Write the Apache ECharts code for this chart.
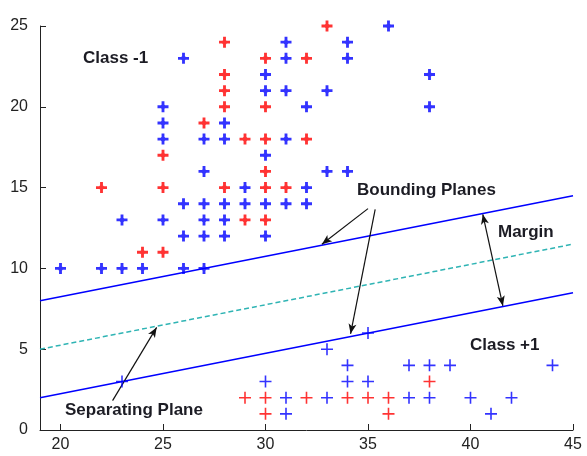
<!DOCTYPE html>
<html>
<head>
<meta charset="utf-8">
<script src="https://cdn.jsdelivr.net/npm/echarts@6/dist/echarts.min.js"></script>
<style>
  html, body { margin: 0; padding: 0; background: #fff; }
  #chart { width: 587px; height: 456px; }
</style>
</head>
<body>
<div id="chart"></div>
<script>
// Training points, Class -1 (upper cluster)
const classNegBlue = [
  [20,10],[22,10],[23,10],[24,10],[26,10],[27,10],
  [23,13],
  [25,20],[25,19],[25,18],[25,13],
  [26,23],[26,14],[26,12],
  [27,18],[27,16],[27,14],[27,13],[27,12],
  [28,19],[28,18],[28,14],[28,13],[28,12],
  [29,15],[29,14],
  [30,22],[30,21],[30,17],[30,14],[30,12],
  [31,24],[31,23],[31,21],[31,18],[31,14],
  [32,20],[32,15],[32,14],
  [33,21],[33,16],
  [34,24],[34,23],[34,16],
  [36,25],
  [38,22],[38,20]
];
const classNegRed = [
  [22,15],[24,11],[25,17],[25,15],[25,11],
  [27,19],
  [28,24],[28,22],[28,21],[28,20],[28,15],
  [29,18],[29,13],
  [30,23],[30,20],[30,18],[30,16],[30,15],[30,13],
  [31,15],
  [32,23],[32,18],
  [33,25]
];
// Training points, Class +1 (lower cluster)
const classPosBlue = [
  [23,3],[30,3],[31,2],[31,1],[33,5],[35,6],
  [34,4],[37,4],[38,4],[39,4],[44,4],
  [34,3],[35,3],
  [33,2],[37,2],[38,2],[40,2],[42,2],
  [41,1]
];
const classPosRed = [
  [29,2],[30,2],[30,1],[32,2],[34,2],[35,2],[36,2],[36,1],[38,3]
];

// Planes (end points across the x range)
const upperPlane = [[19, 8], [45, 14.5]];
const separatingPlane = [[19, 5], [45, 11.5]];
const lowerPlane = [[19, 2], [45, 8.5]];

// Annotation arrows: [tail, head]
const arrowUpper = [[35.0, 13.7], [32.75, 11.5]];
const arrowLower = [[35.35, 13.65], [34.15, 5.95]];
const arrowMargin = [[40.6, 13.35], [41.58, 7.68]];
const arrowSeparating = [[22.54, 1.82], [24.69, 6.35]];

const xTicks = [20, 25, 30, 35, 40, 45];
const yTicks = [0, 5, 10, 15, 20, 25];

const BLUE = '#0000ff';
const RED = '#ff0000';
const TEAL = '#2fb4b4';
const INK = '#1c1c24';

// bold plus with a swollen centre
const boldPlus = 'path://M-1.3,-5 L1.3,-5 L1.3,-1.3 L5,-1.3 L5,1.3 L1.3,1.3 L1.3,5 L-1.3,5 L-1.3,1.3 L-5,1.3 L-5,-1.3 L-1.3,-1.3 Z M0,-3.2 L3.2,0 L0,3.2 L-3.2,0 Z';
// thin plus
const thinPlus = 'path://M-0.8,-6 L0.8,-6 L0.8,-0.8 L6,-0.8 L6,0.8 L0.8,0.8 L0.8,6 L-0.8,6 L-0.8,0.8 L-6,0.8 L-6,-0.8 L-0.8,-0.8 Z';

function scatter(data, symbol, size, color) {
  return {
    type: 'scatter', data: data, symbol: symbol, symbolSize: size,
    itemStyle: { color: color }, clip: false, z: 5, silent: true
  };
}

function plane(pts, color, type, width) {
  return {
    type: 'line', data: pts, showSymbol: false, symbol: 'none',
    lineStyle: { color: color, type: type, width: width },
    clip: false, z: 3, silent: true
  };
}

function arrow(pair, both) {
  return [
    { coord: pair[0], symbol: both ? 'arrow' : 'none' },
    { coord: pair[1], symbol: 'arrow' }
  ];
}

const chart = echarts.init(document.getElementById('chart'), null, { renderer: 'canvas' });

const labelFont = { fontFamily: 'Liberation Sans, Arial, sans-serif', fontSize: 16, color: '#222' };
const noteFont = { fontFamily: 'Liberation Sans, Arial, sans-serif', fontSize: 17, fontWeight: 'bold', fill: INK, verticalAlign: 'middle' };

function note(text, x, y) {
  return { type: 'text', x: x, y: y, silent: true, style: Object.assign({ text: text }, noteFont) };
}

chart.setOption({
  animation: false,
  backgroundColor: '#fff',
  grid: { left: 40, right: 14, top: 26, bottom: 26 },
  xAxis: {
    type: 'value', min: 19, max: 45,
    axisLine: { show: true, lineStyle: { color: '#222', width: 1 } },
    axisTick: { show: true, inside: true, length: 6, customValues: xTicks, lineStyle: { color: '#222' } },
    axisLabel: Object.assign({ customValues: xTicks, margin: 7 }, labelFont),
    splitLine: { show: false }
  },
  yAxis: {
    type: 'value', min: 0, max: 25, interval: 5,
    axisLine: { show: true, lineStyle: { color: '#222', width: 1 } },
    axisTick: { show: true, inside: true, length: 6, lineStyle: { color: '#222' } },
    axisLabel: Object.assign({ margin: 12 }, labelFont),
    splitLine: { show: false }
  },
  series: [
    plane(upperPlane, BLUE, 'solid', 1.5),
    plane(separatingPlane, TEAL, [5, 3], 1.5),
    Object.assign(plane(lowerPlane, BLUE, 'solid', 1.5), {
      markLine: {
        silent: true,
        symbolSize: [6, 10],
        label: { show: false },
        lineStyle: { color: '#111', type: 'solid', width: 1.2 },
        data: [
          arrow(arrowUpper, false),
          arrow(arrowLower, false),
          arrow(arrowMargin, true),
          arrow(arrowSeparating, false)
        ]
      }
    }),
    scatter(classNegBlue, boldPlus, 11, BLUE),
    scatter(classNegRed, boldPlus, 11, RED),
    scatter(classPosBlue, thinPlus, 12, BLUE),
    scatter(classPosRed, thinPlus, 12, RED)
  ],
  graphic: [
    note('Class -1', 83, 58),
    note('Bounding Planes', 357, 190),
    note('Margin', 498, 232),
    note('Class +1', 470, 345),
    note('Separating Plane', 65, 410)
  ]
});
</script>
</body>
</html>
